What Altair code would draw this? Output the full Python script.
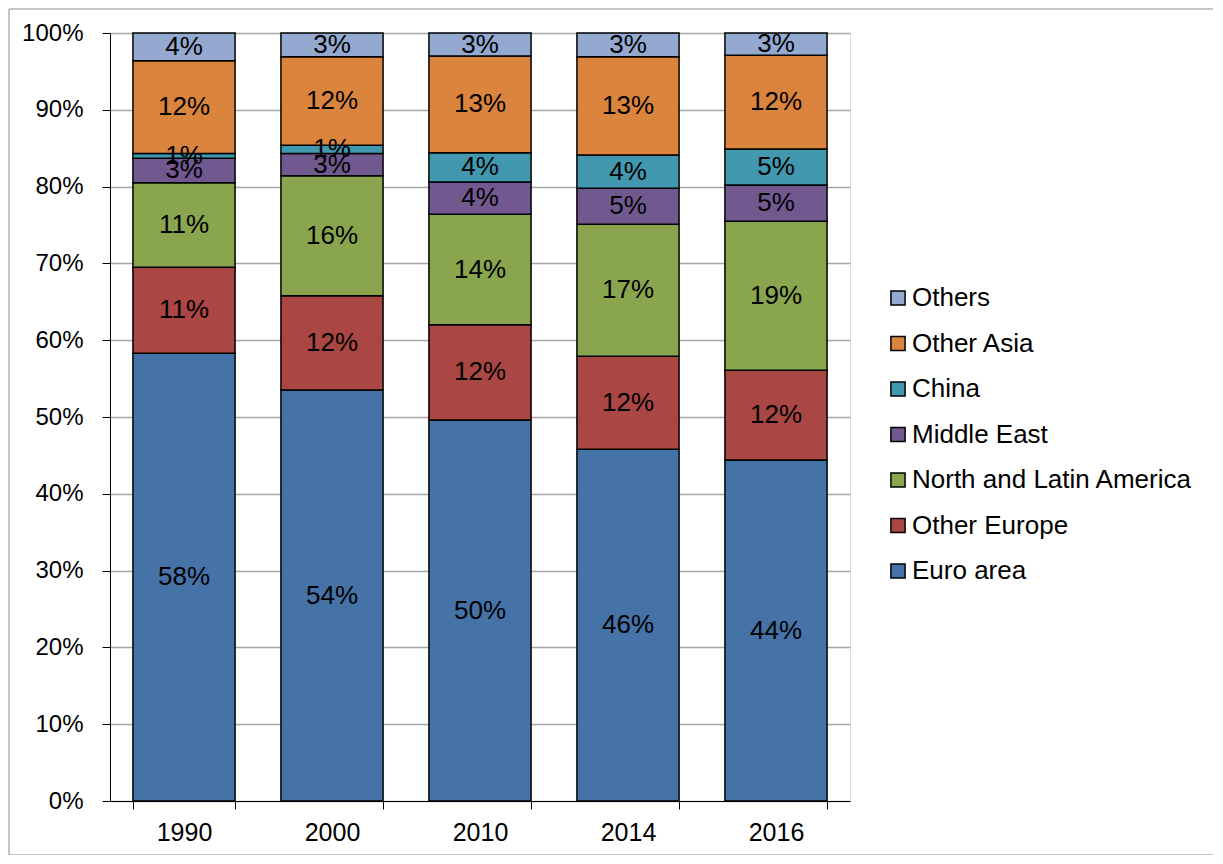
import altair as alt
import pandas as pd

years = ["1990", "2000", "2010", "2014", "2016"]
series = ["Euro area", "Other Europe", "North and Latin America", "Middle East",
          "China", "Other Asia", "Others"]
colors = ["#4573A7", "#AA4643", "#89A54E", "#71588F", "#4198AF", "#DB843D", "#93A9CF"]

euro_area = [58.3, 53.5, 49.6, 45.8, 44.4]
other_europe = [11.2, 12.3, 12.4, 12.1, 11.7]
north_latin_america = [11.0, 15.6, 14.4, 17.2, 19.4]
middle_east = [3.2, 2.9, 4.2, 4.7, 4.7]
china = [0.6, 1.1, 3.8, 4.3, 4.7]
other_asia = [12.1, 11.5, 12.6, 12.8, 12.2]
others = [3.6, 3.1, 3.0, 3.1, 2.9]

values = [euro_area, other_europe, north_latin_america, middle_east, china, other_asia, others]

rows = []
for si, (name, vals) in enumerate(zip(series, values)):
    for y, v in zip(years, vals):
        rows.append({"year": y, "series": name, "value": v, "order": si})
df = pd.DataFrame(rows)

FONT = "Liberation Sans"

x_enc = alt.X("year:N", sort=years,
              scale=alt.Scale(paddingInner=0.31, paddingOuter=0.155),
              axis=alt.Axis(title=None, labelAngle=0, domainColor="black", domainWidth=1,
                            tickColor="black", tickSize=8, tickBand="extent",
                            labelPadding=11, labelFontSize=25, labelFont=FONT,
                            labelColor="black", grid=False))

base = alt.Chart(df)

bars = base.mark_bar(stroke="black", strokeWidth=1.5).encode(
    x=x_enc,
    y=alt.Y("value:Q", stack="zero",
            scale=alt.Scale(domain=[0, 100], nice=False),
            axis=alt.Axis(title=None, values=list(range(0, 101, 10)),
                          labelExpr="datum.value + '%'", labelFontSize=24, labelFont=FONT,
                          labelColor="black", domainColor="black", domainWidth=1,
                          tickColor="black", tickSize=8, labelPadding=19,
                          grid=True, gridColor="#A6A6A6", gridWidth=1.5)),
    color=alt.Color("series:N",
                    scale=alt.Scale(domain=series[::-1], range=colors[::-1]),
                    legend=alt.Legend(title=None, orient="none", legendX=775, legendY=252,
                                      symbolType="square", symbolSize=200,
                                      symbolStrokeColor="black", symbolStrokeWidth=1.5,
                                      labelFontSize=26, labelFont=FONT, labelColor="black",
                                      labelOffset=1, rowPadding=19.5, labelLimit=400)),
    order=alt.Order("order:Q", sort="ascending"),
)

labels = base.transform_stack(
    stack="value", groupby=["year"], as_=["v0", "v1"],
    sort=[alt.SortField("order", order="ascending")]
).transform_calculate(
    mid="(datum.v0 + datum.v1) / 2",
    label="format(datum.value, '.0f') + '%'"
).mark_text(font=FONT, fontSize=26, color="black", baseline="middle").encode(
    x=alt.X("year:N", sort=years),
    y=alt.Y("mid:Q"),
    text="label:N",
)

border = alt.Chart(pd.DataFrame({"a": [0]})).mark_rect(
    filled=False, stroke="#8C8C8C", strokeWidth=1
).encode(x=alt.value(-101), x2=alt.value(1104), y=alt.value(-24), y2=alt.value(822))

chart = alt.layer(border, bars, labels).properties(
    width=740, height=768,
    padding={"left": 102, "top": 25, "right": 363, "bottom": 54},
    autosize=alt.AutoSizeParams(type="none"),
).configure_view(stroke=None).configure(background="white")

chart.save("out.html", embed_options={"renderer": "svg", "actions": False})
